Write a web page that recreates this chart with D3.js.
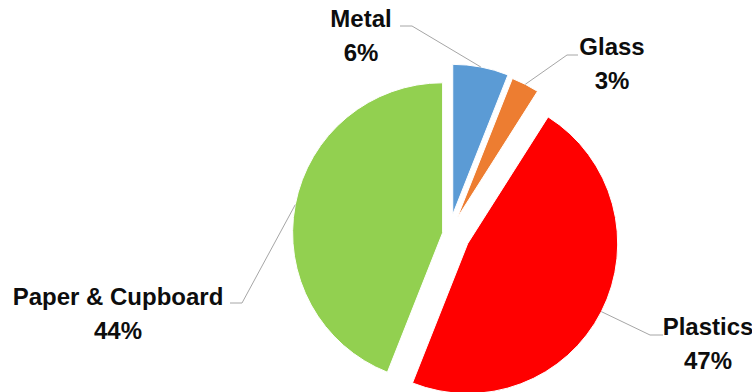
<!DOCTYPE html>
<html>
<head>
<meta charset="utf-8">
<script src="https://cdn.jsdelivr.net/npm/d3@7"></script>
<style>
  html, body { margin: 0; padding: 0; background: #fff; }
  svg { display: block; }
</style>
</head>
<body>
<div id="chart"></div>
<script>
const categories = ["Metal", "Glass", "Plastics", "Paper & Cupboard"];
const values = [6, 3, 47, 44];
const colors = ["#5B9BD5", "#ED7D31", "#FF0000", "#92D050"];

const width = 752;
const height = 392;
const radius = 150;
const cx = 449, cy = 234;
// explosion distance of each slice, in px
const explode = [20, 18, 21, 6.5];
// label layout: elbow of leader, end of leader, text centre x, first baseline
const labelLayout = [
    { elbow: [412, 26], end: [400, 26], tx: 361, ty: 27, anchor: "middle" },
    { elbow: [567, 55], end: [578, 55], tx: 612, ty: 55, anchor: "middle" },
    { elbow: [650, 335], end: [663, 335], tx: 708, ty: 335, anchor: "middle" },
    { elbow: [242, 303], end: [230, 303], tx: 118, ty: 305, anchor: "middle" }
];

const svg = d3.select("#chart")
    .append("svg")
    .attr("width", width)
    .attr("height", height);

const pie = d3.pie()
    .sort(null)
    .value(d => d.value);

const arc = d3.arc()
    .innerRadius(0)
    .outerRadius(radius);

const data = categories.map((c, i) => ({ name: c, value: values[i], color: colors[i], ex: explode[i] }));
const arcs = pie(data);

function offset(d, dist) {
    const a = (d.startAngle + d.endAngle) / 2;
    return [Math.sin(a) * dist, -Math.cos(a) * dist];
}

const g = svg.append("g")
    .attr("transform", `translate(${cx},${cy})`);

// Slices
g.selectAll(".slice")
    .data(arcs)
    .enter()
    .append("path")
    .attr("class", "slice")
    .attr("transform", d => {
        const o = offset(d, d.data.ex);
        return `translate(${o[0]},${o[1]})`;
    })
    .attr("d", arc)
    .attr("fill", d => d.data.color)
    .attr("stroke", "#fff")
    .attr("stroke-width", 1);

// Leader lines
svg.selectAll(".leader")
    .data(arcs)
    .enter()
    .append("polyline")
    .attr("class", "leader")
    .attr("points", (d, i) => {
        const o = offset(d, d.data.ex + radius);
        const l = labelLayout[i];
        return [[cx + o[0], cy + o[1]], l.elbow, l.end].map(p => p.join(",")).join(" ");
    })
    .attr("fill", "none")
    .attr("stroke", "#A6A6A6")
    .attr("stroke-width", 1);

// Labels
const labels = svg.selectAll(".label")
    .data(arcs)
    .enter()
    .append("text")
    .attr("class", "label")
    .attr("text-anchor", (d, i) => labelLayout[i].anchor)
    .style("font-family", "'Liberation Sans', Arial, sans-serif")
    .style("font-weight", "bold")
    .style("font-size", "24px")
    .style("fill", "#0d0d0d");

labels.append("tspan")
    .attr("x", (d, i) => labelLayout[i].tx)
    .attr("y", (d, i) => labelLayout[i].ty)
    .text(d => d.data.name);

labels.append("tspan")
    .attr("x", (d, i) => labelLayout[i].tx)
    .attr("y", (d, i) => labelLayout[i].ty + 34)
    .text(d => d.data.value + "%");
</script>
</body>
</html>
